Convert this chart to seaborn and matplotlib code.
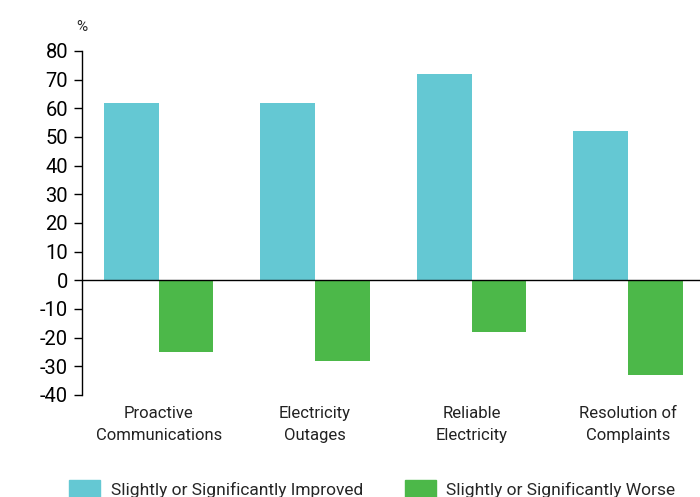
import matplotlib
matplotlib.use("Agg")
import matplotlib.pyplot as plt
import seaborn as sns
import pandas as pd
import matplotlib.patches as mpatches

categories = ["Proactive\nCommunications", "Electricity\nOutages", "Reliable\nElectricity", "Resolution of\nComplaints"]
improved = [62, 62, 72, 52]
worse = [-25, -28, -18, -33]
series_names = ["Slightly or Significantly Improved", "Slightly or Significantly Worse"]
y_ticks = [80, 70, 60, 50, 40, 30, 20, 10, 0, -10, -20, -30, -40]
colors = ["#64C8D3", "#4CB849"]

sns.set_theme(style="white")
plt.rcParams['font.family'] = ['Liberation Sans Narrow', 'Roboto', 'DejaVu Sans']

df = pd.DataFrame({
    "category": categories * 2,
    "value": improved + worse,
    "series": [series_names[0]] * 4 + [series_names[1]] * 4,
})

fig = plt.figure(figsize=(7, 4.97), dpi=100)
ax = fig.add_axes([82/700, 102/497, 618/700, 344/497])
sns.barplot(data=df, x="category", y="value", hue="series", hue_order=series_names,
            palette=colors, width=0.7, saturation=1, ax=ax, legend=False,
            edgecolor="none", linewidth=0)

ax.set_xlim(-0.49, 3.46)
ax.set_ylim(-40, 80)
ax.set_yticks(y_ticks)
ax.set_yticklabels([str(t) for t in y_ticks], fontsize=14.5)
ax.axhline(0, color="black", linewidth=1.0)
for s in ["top", "right", "bottom"]:
    ax.spines[s].set_visible(False)
ax.spines["left"].set_color("black")
ax.spines["left"].set_linewidth(1.0)
ax.tick_params(axis="y", which="both", left=True, length=6, width=1, color="black", pad=4, labelcolor="black")
ax.tick_params(axis="x", bottom=False, pad=2, labelsize=12, labelcolor="#222222")
for lbl in ax.get_xticklabels():
    lbl.set_linespacing(1.55)
ax.set_xlabel("")
ax.set_ylabel("")
ax.text(0.0, 1.05, "%", transform=ax.transAxes, fontsize=11, ha="center", va="bottom")

handles = [mpatches.Patch(color=c, label=n) for c, n in zip(colors, series_names)]
fig.legend(handles=handles, loc="upper left", bbox_to_anchor=(62/700, 24/497), ncol=2,
           frameon=False, fontsize=12.5, handlelength=1.8, handleheight=1.3,
           handletextpad=0.6, columnspacing=2.4, borderaxespad=0)

fig.savefig("out.png", dpi=100)
